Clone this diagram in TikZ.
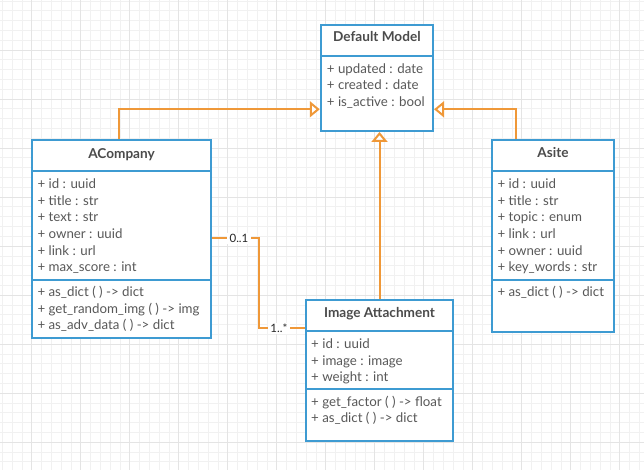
\documentclass[tikz,border=0pt]{standalone}
\usepackage{fontspec}
\setmainfont{Lato}
\usepackage{tikz}
\usetikzlibrary{arrows.meta}
\definecolor{umlblue}{RGB}{62,155,210}
\definecolor{umlorange}{RGB}{239,152,56}
\definecolor{umltext}{RGB}{88,88,88}
\definecolor{gridminor}{RGB}{241,241,241}
\definecolor{gridmajor}{RGB}{228,228,228}

\begin{document}
\begin{tikzpicture}[x=1pt,y=-1pt]
\tikzset{>={Triangle[width=16pt,length=10pt,fill=white]}}
\tikzstyle{classbox}=[draw=umlblue,line width=2pt,fill=white,inner sep=0pt]
\tikzstyle{classline}=[draw=umlblue,line width=2pt]
\tikzstyle{title}=[font=\fontsize{13.6}{15}\selectfont\bfseries,text=umltext!85!black,inner sep=0pt,anchor=base]
\tikzstyle{attr}=[font=\fontsize{13.3}{15}\selectfont,text=umltext,inner sep=0pt,anchor=base west]
\tikzstyle{inherit}=[->,draw=umlorange,line width=2pt]
\tikzstyle{assoc}=[draw=umlorange,line width=2pt]
\tikzstyle{mult}=[fill=white,font=\fontsize{11.5}{13}\selectfont,text=black!85,inner xsep=2.5pt,inner ysep=1pt]

\useasboundingbox (0,0) rectangle (644,470);
\fill[white] (0,0) rectangle (644,470);
\foreach \gx in {2.3,12.1,...,644} \draw[gridminor,line width=0.6pt] (\gx,0) -- (\gx,470);
\foreach \gy in {1,10.8,...,470} \draw[gridminor,line width=0.6pt] (0,\gy) -- (644,\gy);
\foreach \gx in {31.7,80.7,...,644} \draw[gridmajor,line width=0.6pt] (\gx,0) -- (\gx,470);
\foreach \gy in {50,99,...,470} \draw[gridmajor,line width=0.6pt] (0,\gy) -- (644,\gy);

\node[classbox,minimum width=112.3pt,minimum height=106pt] (model) at (376.9,78) {};
\draw[classline] (model.west |- 0,56) -- (model.east |- 0,56);
\node[title] (model-t) at (376.9,42) {Default Model};
\foreach \t [count=\i] in {+ updated : date, + created : date, + is\_active : bool}
  \node[attr] (model-a\i) at (326.7,56.6+16.7*\i) {\t};

\node[classbox,minimum width=179pt,minimum height=198pt] (company) at (121.5,239) {};
\draw[classline] (company.west |- 0,171) -- (company.east |- 0,171);
\draw[classline] (company.west |- 0,280) -- (company.east |- 0,280);
\node[title] (company-t) at (121.5,158.3) {ACompany};
\foreach \t [count=\i] in {+ id : uuid, + title : str, + text : str, + owner : uuid, + link : url, + max\_score : int}
  \node[attr] (company-a\i) at (37.3,171.6+16.7*\i) {\t};
\foreach \t [count=\i] in {+ as\_dict ( ) -> dict, + get\_random\_img ( ) -> img, + as\_adv\_data ( ) -> dict}
  \node[attr] (company-m\i) at (37.3,280.2+16.5*\i) {\t};

\node[classbox,minimum width=122pt,minimum height=192pt] (site) at (553,236) {};
\draw[classline] (site.west |- 0,171) -- (site.east |- 0,171);
\draw[classline] (site.west |- 0,280) -- (site.east |- 0,280);
\node[title] (site-t) at (553,157.5) {Asite};
\foreach \t [count=\i] in {+ id : uuid, + title : str, + topic : enum, + link : url, + owner : uuid, + key\_words : str}
  \node[attr] (site-a\i) at (497.3,171.6+16.7*\i) {\t};
\node[attr] (site-m1) at (497.3,296.7) {+ as\_dict ( ) -> dict};

\node[classbox,minimum width=147pt,minimum height=141pt] (image) at (379.5,370.5) {};
\draw[classline] (image.west |- 0,331) -- (image.east |- 0,331);
\draw[classline] (image.west |- 0,389) -- (image.east |- 0,389);
\node[title] (image-t) at (379.5,317.3) {Image Attachment};
\foreach \t [count=\i] in {+ id : uuid, + image : image, + weight : int}
  \node[attr] (image-a\i) at (311,331.6+16.7*\i) {\t};
\foreach \t [count=\i] in {+ get\_factor ( ) -> float, + as\_dict ( ) -> dict}
  \node[attr] (image-m\i) at (311,389.3+16.7*\i) {\t};

\coordinate (kA) at (259.3,238.3);
\coordinate (kB) at (259.3,328.3);
\coordinate (kC) at (119,109.3);
\coordinate (kD) at (516,109.3);
\draw[inherit] (company.north -| kC) -- (kC) -- (model.west |- kC);
\draw[inherit] (site.north -| kD) -- (kD) -- (model.east |- kD);
\draw[inherit] (image.north) -- (image.north |- model.south);
\draw[assoc] (company.east |- kA) -- node[mult,pos=0.57] (m01) {0..1} (kA) -- (kB)
  -- node[mult,pos=0.43] (m1n) {1..*} (image.west |- kB);
\end{tikzpicture}
\end{document}
